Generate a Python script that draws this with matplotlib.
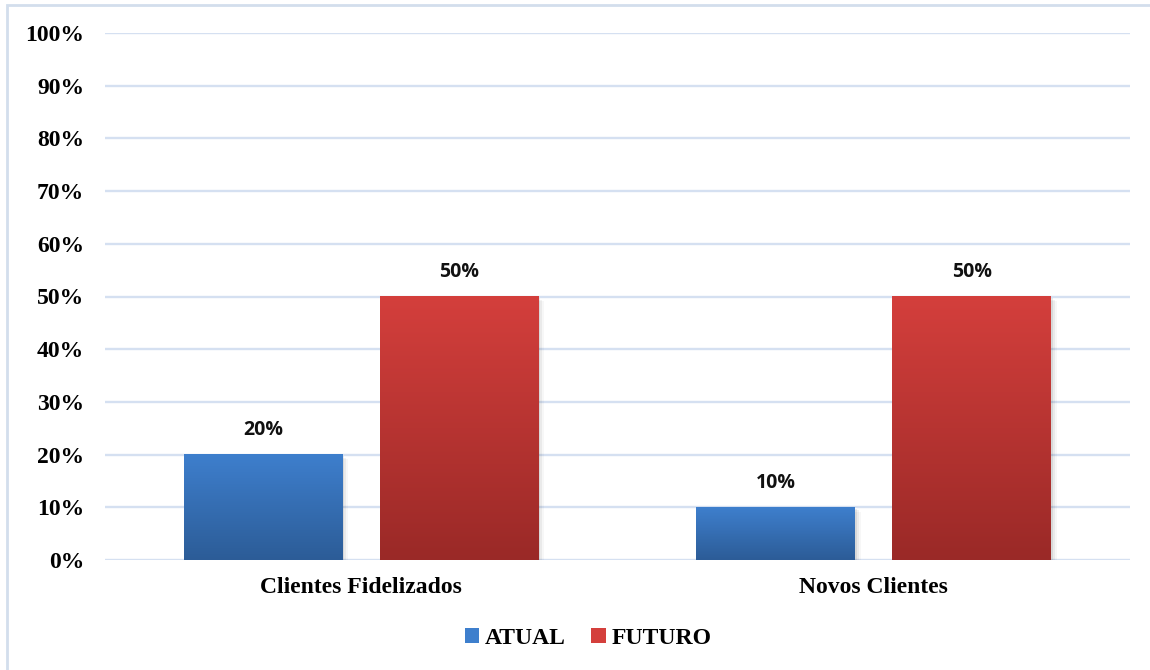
import numpy as np
import matplotlib
matplotlib.use("Agg")
import matplotlib.pyplot as plt
from matplotlib.colors import LinearSegmentedColormap
from matplotlib.patches import Rectangle

categories = ["Clientes Fidelizados", "Novos Clientes"]
series_names = ["ATUAL", "FUTURO"]
atual = [20, 10]
futuro = [50, 50]
y_ticks = [0, 10, 20, 30, 40, 50, 60, 70, 80, 90, 100]

blue_top, blue_bottom = "#3E7FCD", "#2C5C97"
red_top, red_bottom = "#D43F3C", "#9A2927"

fig = plt.figure(figsize=(11.5, 6.7), dpi=100)
fig.patch.set_facecolor("white")

# outer frame of the chart area
fig.add_artist(Rectangle((7 / 1150, -0.02), 1.2, (670 - 5) / 670 + 0.02,
                         transform=fig.transFigure, fill=False,
                         edgecolor="#D3DEEC", linewidth=2.0))

ax = fig.add_axes([105 / 1150, (670 - 560) / 670, (1130 - 105) / 1150, (560 - 33) / 670])

x = np.arange(len(categories))
width = 0.31
offset = 0.191

serif = "Liberation Serif"
for y in y_ticks:
    ax.axhline(y, color="#D5E0F1", linewidth=1.7, zorder=0)

def gradient_bars(xs, vals, top, bottom, label):
    bars = ax.bar(xs, vals, width, color=top, label=label, zorder=2)
    cmap = LinearSegmentedColormap.from_list(label, [bottom, top])
    grad = np.linspace(0, 1, 256).reshape(-1, 1)
    for b, v in zip(bars, vals):
        x0, y0 = b.get_x(), b.get_y()
        w, h = b.get_width(), b.get_height()
        # soft drop shadow
        for k, a in enumerate([0.07, 0.05, 0.03]):
            ax.add_patch(Rectangle((x0 + 0.001 * k, y0 - 0.3 * (k + 1)), w + 0.003 * (k + 1), h,
                                   facecolor="#000000", alpha=a, edgecolor="none", zorder=1))
        b.set_facecolor("none")
        ax.imshow(grad, extent=(x0, x0 + w, y0, y0 + h), origin="lower", cmap=cmap,
                  aspect="auto", zorder=2.5, interpolation="bicubic")
        ax.text(x0 + w / 2, y0 + h + 2.8, f"{v}%",
                ha="center", va="bottom", fontsize=14, fontweight="bold",
                family="Open Sans", color="#111111")
    return bars

gradient_bars(x - offset, atual, blue_top, blue_bottom, series_names[0])
gradient_bars(x + offset, futuro, red_top, red_bottom, series_names[1])
ax.set_xlim(-0.5, 1.5)
ax.set_ylim(0, 100)

ax.set_yticks(y_ticks)
ax.set_yticklabels([f"{v}%" for v in y_ticks], fontsize=17, fontweight="bold", family=serif)
ax.set_xticks(x)
ax.set_xticklabels(categories, fontsize=17, fontweight="bold", family=serif)
ax.tick_params(axis="both", length=0)
ax.tick_params(axis="y", pad=15)
ax.tick_params(axis="x", pad=12)
for s in ax.spines.values():
    s.set_visible(False)

handles = [Rectangle((0, 0), 1, 1, facecolor=blue_top), Rectangle((0, 0), 1, 1, facecolor=red_top)]
fig.legend(handles, series_names, loc="center", bbox_to_anchor=(588 / 1150, 1 - 638 / 670),
           ncol=2, frameon=False, prop={"family": serif, "weight": "bold", "size": 17},
           handlelength=0.6, handleheight=0.6, handletextpad=0.25, columnspacing=1.1)

fig.savefig("out.png", dpi=100, facecolor="white")
